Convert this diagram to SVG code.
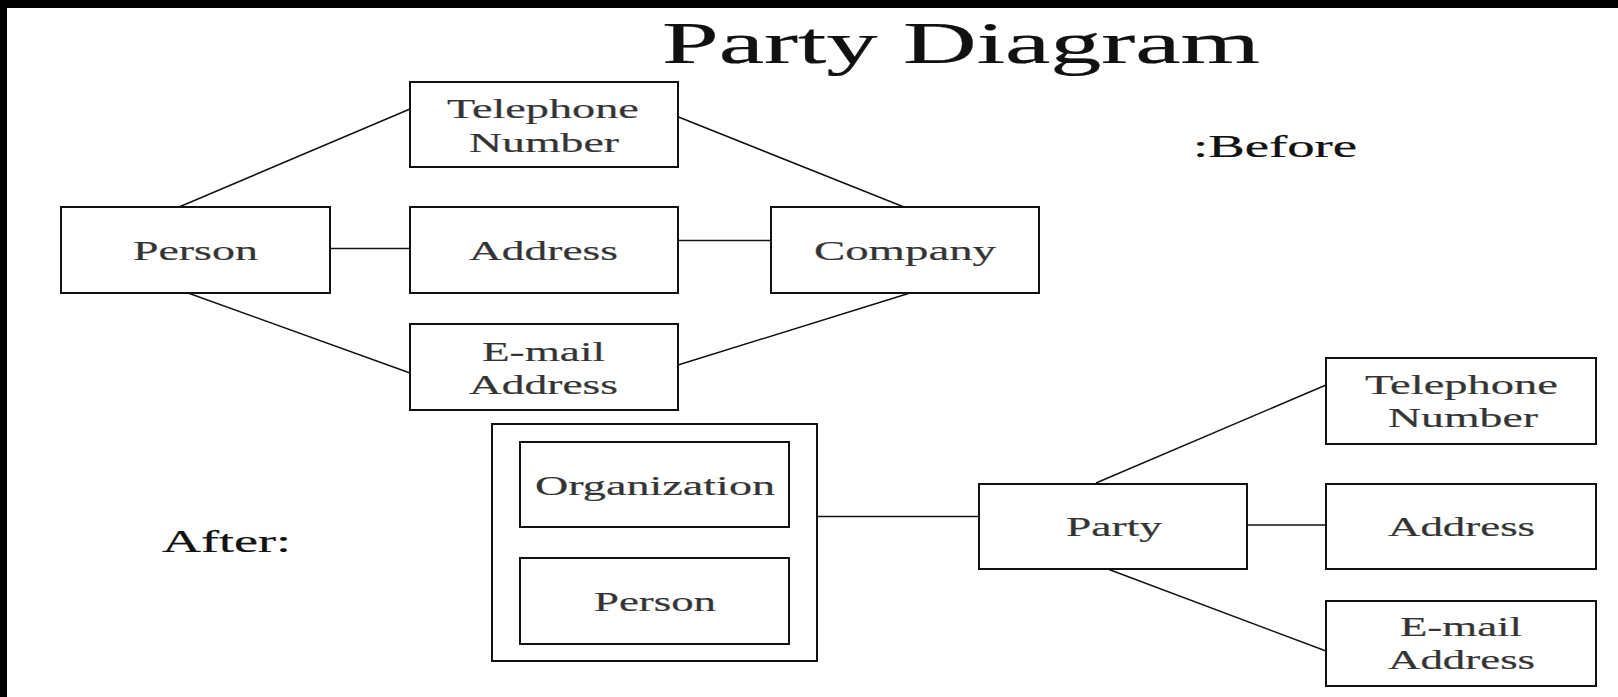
<svg xmlns="http://www.w3.org/2000/svg" width="1618" height="697" viewBox="0 0 1618 697">
  <style>
    .box { fill: #ffffff; stroke: #111111; stroke-width: 2; }
    .conn { stroke: #111111; stroke-width: 1.5; fill: none; }
    .lbl { font-family: "Liberation Serif", "Times New Roman", serif; font-size: 27px; fill: #333333; stroke: #555555; stroke-width: 0.25; }
    .head { font-family: "Liberation Serif", "Times New Roman", serif; fill: #111111; stroke: #111111; stroke-width: 0.25; }
  </style>

  <!-- page background and dark frame strips -->
  <rect x="0" y="0" width="1618" height="697" fill="#ffffff"/>
  <rect x="0" y="0" width="1618" height="8" fill="#000000"/>
  <rect x="0" y="0" width="7" height="697" fill="#000000"/>

  <!-- headings (all lettering is drawn widened 1.7x horizontally) -->
  <text class="head" transform="scale(1.7 1)" x="389.4" y="63" font-size="60" textLength="351.8" lengthAdjust="spacingAndGlyphs">Party Diagram</text>
  <text class="head" transform="scale(1.7 1)" x="701.8" y="157" font-size="31" textLength="96.5" lengthAdjust="spacingAndGlyphs">:Before</text>
  <text class="head" transform="scale(1.7 1)" x="95.3" y="552" font-size="32" textLength="75.9" lengthAdjust="spacingAndGlyphs">After:</text>

  <!-- connectors -->
  <g id="connectors">
    <line class="conn" x1="179" y1="207" x2="410" y2="109"/>
    <line class="conn" x1="330" y1="248.5" x2="410" y2="248.5"/>
    <line class="conn" x1="188" y1="293" x2="410" y2="373"/>
    <line class="conn" x1="676" y1="116" x2="904" y2="207"/>
    <line class="conn" x1="676" y1="240.5" x2="771" y2="240.5"/>
    <line class="conn" x1="910" y1="293" x2="678" y2="365"/>
    <line class="conn" x1="812" y1="516.5" x2="979" y2="516.5"/>
    <line class="conn" x1="1096" y1="483" x2="1326" y2="385"/>
    <line class="conn" x1="1244" y1="525" x2="1326" y2="525"/>
    <line class="conn" x1="1105" y1="568" x2="1326" y2="651"/>
  </g>

  <!-- before: separate entities -->
  <g id="tel-before">
    <rect class="box" x="410" y="82" width="268" height="85"/>
    <text class="lbl" transform="scale(1.7 1)" x="262.9" y="118" textLength="112.9" lengthAdjust="spacingAndGlyphs">Telephone</text>
    <text class="lbl" transform="scale(1.7 1)" x="275.9" y="152" textLength="88.2" lengthAdjust="spacingAndGlyphs">Number</text>
  </g>
  <g id="person-before">
    <rect class="box" x="61" y="207" width="269" height="86"/>
    <text class="lbl" transform="scale(1.7 1)" x="78.2" y="260" textLength="73.5" lengthAdjust="spacingAndGlyphs">Person</text>
  </g>
  <g id="address-before">
    <rect class="box" x="410" y="207" width="268" height="86"/>
    <text class="lbl" transform="scale(1.7 1)" x="275.9" y="260" textLength="87.6" lengthAdjust="spacingAndGlyphs">Address</text>
  </g>
  <g id="company-before">
    <rect class="box" x="771" y="207" width="268" height="86"/>
    <text class="lbl" transform="scale(1.7 1)" x="478.8" y="260" textLength="107.1" lengthAdjust="spacingAndGlyphs">Company</text>
  </g>
  <g id="email-before">
    <rect class="box" x="410" y="324" width="268" height="86"/>
    <text class="lbl" transform="scale(1.7 1)" x="283.5" y="361" textLength="72.4" lengthAdjust="spacingAndGlyphs">E-mail</text>
    <text class="lbl" transform="scale(1.7 1)" x="275.9" y="394" textLength="87.6" lengthAdjust="spacingAndGlyphs">Address</text>
  </g>

  <!-- after: party abstraction -->
  <g id="party-kinds">
    <rect class="box" x="492" y="424" width="325" height="237"/>
    <g id="organization">
      <rect class="box" x="520" y="442" width="269" height="85"/>
      <text class="lbl" transform="scale(1.7 1)" x="314.7" y="495" textLength="141.2" lengthAdjust="spacingAndGlyphs">Organization</text>
    </g>
    <g id="person-after">
      <rect class="box" x="520" y="558" width="269" height="86"/>
      <text class="lbl" transform="scale(1.7 1)" x="349.4" y="611" textLength="71.8" lengthAdjust="spacingAndGlyphs">Person</text>
    </g>
  </g>
  <g id="party">
    <rect class="box" x="979" y="484" width="268" height="85"/>
    <text class="lbl" transform="scale(1.7 1)" x="627.1" y="536" textLength="56.5" lengthAdjust="spacingAndGlyphs">Party</text>
  </g>
  <g id="tel-after">
    <rect class="box" x="1326" y="358" width="270" height="86"/>
    <text class="lbl" transform="scale(1.7 1)" x="802.9" y="394" textLength="113.5" lengthAdjust="spacingAndGlyphs">Telephone</text>
    <text class="lbl" transform="scale(1.7 1)" x="816.5" y="427" textLength="88.2" lengthAdjust="spacingAndGlyphs">Number</text>
  </g>
  <g id="address-after">
    <rect class="box" x="1326" y="484" width="270" height="85"/>
    <text class="lbl" transform="scale(1.7 1)" x="816.5" y="536" textLength="86.5" lengthAdjust="spacingAndGlyphs">Address</text>
  </g>
  <g id="email-after">
    <rect class="box" x="1326" y="601" width="270" height="85"/>
    <text class="lbl" transform="scale(1.7 1)" x="823.5" y="636" textLength="71.8" lengthAdjust="spacingAndGlyphs">E-mail</text>
    <text class="lbl" transform="scale(1.7 1)" x="816.5" y="669" textLength="86.5" lengthAdjust="spacingAndGlyphs">Address</text>
  </g>
</svg>
